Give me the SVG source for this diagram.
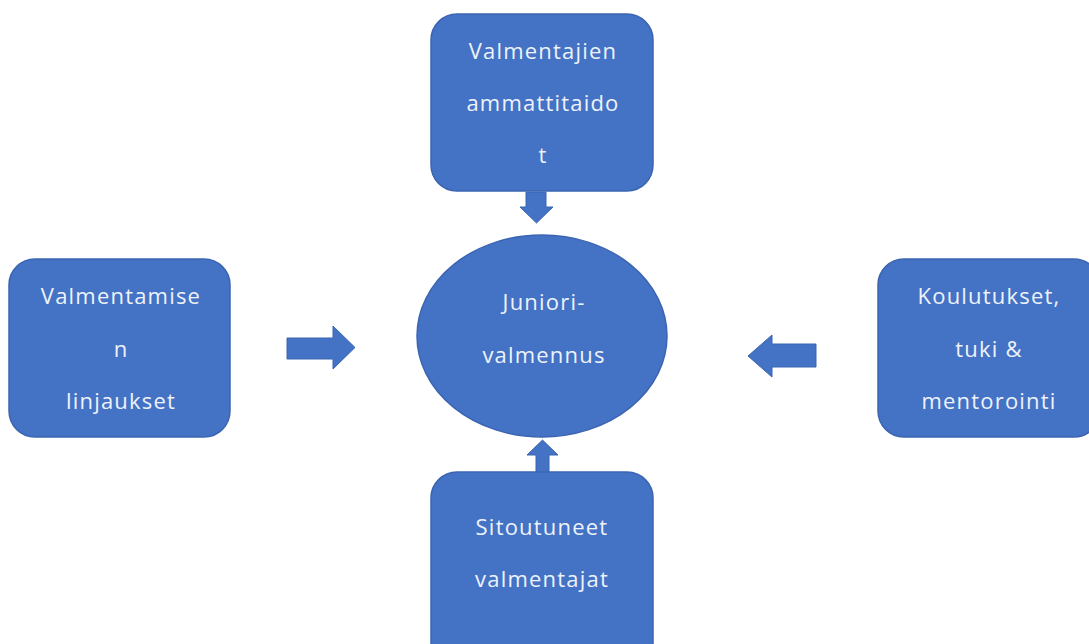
<svg xmlns="http://www.w3.org/2000/svg" width="1089" height="644" viewBox="0 0 1089 644">
<style>
.box{fill:#4472C4;stroke:#3B65B2;stroke-width:1.5}
.arr{fill:#4472C4;stroke:#3B65B2;stroke-width:1}
.t{font-family:"Open Sans","Noto Sans",sans-serif;font-size:22px;fill:#EEF2FA;text-anchor:middle;letter-spacing:1.2px}
</style>
<rect width="1089" height="644" fill="#FFFFFF"/>
<g id="connectors">
<path class="arr" d="M526,192 H546 V207 H553 L536.5,223 L520,207 H526 Z"/>
<path class="arr" d="M287,338 H333 V326 L355,347.5 L333,369 V359 H287 Z"/>
<path class="arr" d="M816,344 H772 V335 L748,356 L772,377 V367 H816 Z"/>
<path class="arr" d="M536,473 V455 H527 L542.5,440 L558,455 H549 V473 Z"/>
</g>
<g id="node-top">
<rect class="box" x="431" y="14" width="222" height="177" rx="26"/>
<text class="t" x="543" y="59">Valmentajien</text>
<text class="t" x="543" y="111">ammattitaido</text>
<text class="t" x="543" y="163">t</text>
</g>
<g id="node-left">
<rect class="box" x="9" y="259" width="221" height="178" rx="26"/>
<text class="t" x="121" y="304">Valmentamise</text>
<text class="t" x="121" y="357">n</text>
<text class="t" x="121" y="409">linjaukset</text>
</g>
<g id="node-right">
<rect class="box" x="878" y="259" width="222" height="178" rx="26"/>
<text class="t" x="989" y="304">Koulutukset,</text>
<text class="t" x="989" y="357">tuki &amp;</text>
<text class="t" x="989" y="409">mentorointi</text>
</g>
<g id="node-center">
<ellipse class="box" cx="542" cy="336" rx="125" ry="101"/>
<text class="t" x="544" y="310">Juniori-</text>
<text class="t" x="544" y="363">valmennus</text>
</g>
<g id="node-bottom">
<rect class="box" x="431" y="472" width="222" height="200" rx="26"/>
<text class="t" x="542" y="535">Sitoutuneet</text>
<text class="t" x="542" y="587">valmentajat</text>
</g>
</svg>
